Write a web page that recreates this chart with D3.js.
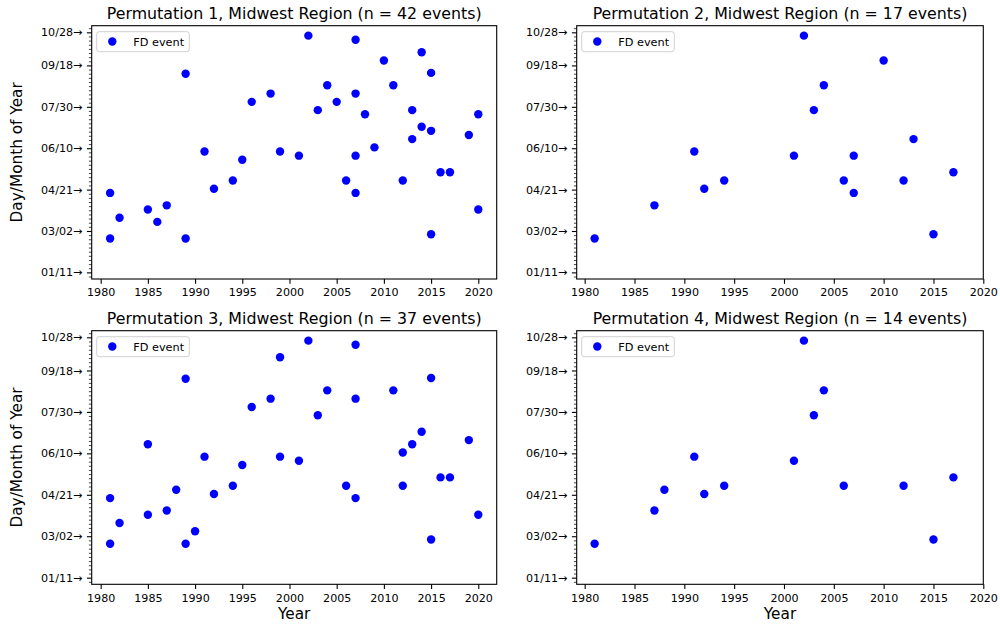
<!DOCTYPE html>
<html>
<head>
<meta charset="utf-8">
<script src="https://cdn.jsdelivr.net/npm/d3@7"></script>
<style>
  html, body { margin: 0; padding: 0; background: #fff; }
  svg { display: block; font-family: "DejaVu Sans", sans-serif; }
</style>
</head>
<body>
<svg id="chart" width="1000" height="626"></svg>
<script>
// FD event data (year, day of year)
const p1Years = [1981, 1981, 1982, 1985, 1986, 1987, 1989, 1989, 1991, 1992, 1994, 1995, 1996, 1998, 1999,
  2001, 2002, 2003, 2004, 2005, 2006, 2007, 2007, 2007, 2007, 2008, 2009, 2010, 2011, 2012,
  2013, 2013, 2014, 2014, 2015, 2015, 2015, 2016, 2017, 2019, 2020, 2020];
const p1Days = [107, 52, 77, 87, 72, 92, 251, 52, 157, 112, 122, 147, 217, 227, 157,
  152, 297, 207, 237, 217, 122, 292, 227, 152, 107, 202, 162, 267, 237, 122,
  207, 172, 277, 187, 252, 182, 57, 132, 132, 177, 202, 87];

const p2Years = [1981, 1987, 1991, 1992, 1994, 2001, 2002, 2003, 2004, 2006, 2007, 2007, 2010, 2012, 2013, 2015, 2017];
const p2Days = [52, 92, 157, 112, 122, 152, 297, 207, 237, 122, 152, 107, 267, 122, 172, 57, 132];

const p3Years = [1981, 1981, 1982, 1985, 1985, 1987, 1988, 1989, 1989, 1990, 1991, 1992, 1994, 1995, 1996,
  1998, 1999, 1999, 2001, 2002, 2003, 2004, 2006, 2007, 2007, 2007, 2011, 2012, 2012, 2013,
  2014, 2015, 2015, 2016, 2017, 2019, 2020];
const p3Days = [107, 52, 77, 172, 87, 92, 117, 251, 52, 67, 157, 112, 122, 147, 217,
  227, 277, 157, 152, 297, 207, 237, 122, 292, 227, 107, 237, 162, 122, 172,
  187, 252, 57, 132, 132, 177, 87];

const p4Years = [1981, 1987, 1988, 1991, 1992, 1994, 2001, 2002, 2003, 2004, 2006, 2012, 2015, 2017];
const p4Days = [52, 92, 117, 157, 112, 122, 152, 297, 207, 237, 122, 122, 57, 132];

const yearTicks = [1980, 1985, 1990, 1995, 2000, 2005, 2010, 2015, 2020];
const dayTicks = [11, 61, 111, 161, 211, 261, 301];

const panels = [
  { title: "Permutation 1, Midwest Region (n = 42 events)", years: p1Years, days: p1Days,
    left: 91.7, right: 496.7, top: 25.7, bottom: 279, xDomain: [1979.05, 2021.95], yLabel: true, xLabel: false },
  { title: "Permutation 2, Midwest Region (n = 17 events)", years: p2Years, days: p2Days,
    left: 576.7, right: 983.3, top: 25.7, bottom: 279, xDomain: [1979.2, 2020], yLabel: false, xLabel: false },
  { title: "Permutation 3, Midwest Region (n = 37 events)", years: p3Years, days: p3Days,
    left: 91.7, right: 496.7, top: 330.7, bottom: 584.3, xDomain: [1979.05, 2021.95], yLabel: true, xLabel: true },
  { title: "Permutation 4, Midwest Region (n = 14 events)", years: p4Years, days: p4Days,
    left: 576.7, right: 983.3, top: 330.7, bottom: 584.3, xDomain: [1979.2, 2020], yLabel: false, xLabel: true }
];

const fmtDay = d => d3.timeFormat("%m/%d")(new Date(2001, 0, d)) + "\u2192";
const minorDays = d3.range(6, 309, 5).filter(d => !dayTicks.includes(d));

const svg = d3.select("#chart");

panels.forEach(p => {
  const x = d3.scaleLinear().domain(p.xDomain).range([p.left, p.right]);
  const y = d3.scaleLinear().domain([3, 309]).range([p.bottom, p.top]);
  const g = svg.append("g");

  // minor y ticks every 5 days
  g.append("g")
    .attr("transform", `translate(${p.left},0)`)
    .call(d3.axisLeft(y).tickValues(minorDays).tickSize(2.8).tickFormat(""))
    .call(a => a.select(".domain").remove())
    .call(a => a.selectAll("line").attr("stroke", "#333").attr("stroke-width", 0.9));

  // major y ticks
  g.append("g")
    .attr("transform", `translate(${p.left},0)`)
    .call(d3.axisLeft(y).tickValues(dayTicks).tickSize(4.8).tickPadding(4.6).tickFormat(fmtDay))
    .call(a => a.select(".domain").remove())
    .call(a => a.selectAll("line").attr("stroke", "#000").attr("stroke-width", 1.1))
    .call(a => a.selectAll("text").attr("font-size", "11.1px").attr("fill", "#000")
      .attr("font-family", "DejaVu Sans"));

  // x axis
  g.append("g")
    .attr("transform", `translate(0,${p.bottom})`)
    .call(d3.axisBottom(x).tickValues(yearTicks).tickSize(4.8).tickPadding(4.6).tickFormat(d3.format("d")))
    .call(a => a.select(".domain").remove())
    .call(a => a.selectAll("line").attr("stroke", "#000").attr("stroke-width", 1.1))
    .call(a => a.selectAll("text").attr("font-size", "11.1px").attr("fill", "#000")
      .attr("font-family", "DejaVu Sans"));

  // points
  g.append("g")
    .selectAll("circle")
    .data(d3.zip(p.years, p.days))
    .join("circle")
    .attr("cx", d => x(d[0]))
    .attr("cy", d => y(d[1]))
    .attr("r", 4.2)
    .attr("fill", "#0000ff");

  // frame
  g.append("rect")
    .attr("x", p.left).attr("y", p.top)
    .attr("width", p.right - p.left).attr("height", p.bottom - p.top)
    .attr("fill", "none").attr("stroke", "#000").attr("stroke-width", 1.1);

  // legend
  const lg = g.append("g").attr("transform", `translate(${p.left + 5},${p.top + 6})`);
  lg.append("rect")
    .attr("x", 0).attr("y", 0).attr("width", 92.6).attr("height", 20).attr("rx", 2.5)
    .attr("fill", "#fff").attr("fill-opacity", 0.8)
    .attr("stroke", "#d0d0d0").attr("stroke-width", 1);
  lg.append("circle").attr("cx", 15.6).attr("cy", 9.8).attr("r", 4.2).attr("fill", "#0000ff");
  lg.append("text").attr("x", 36.5).attr("y", 14)
    .attr("font-size", "11.3px").attr("fill", "#000").text("FD event");

  // title
  g.append("text")
    .attr("x", (p.left + p.right) / 2).attr("y", p.top - 6.3)
    .attr("text-anchor", "middle").attr("font-size", "15.8px").attr("fill", "#000")
    .text(p.title);

  if (p.yLabel) {
    const cy = (p.top + p.bottom) / 2;
    g.append("text")
      .attr("transform", `translate(21.5,${cy}) rotate(-90)`)
      .attr("text-anchor", "middle").attr("font-size", "15.3px").attr("fill", "#000")
      .text("Day/Month of Year");
  }
  if (p.xLabel) {
    g.append("text")
      .attr("x", (p.left + p.right) / 2).attr("y", 618.5)
      .attr("text-anchor", "middle").attr("font-size", "15.3px").attr("fill", "#000")
      .text("Year");
  }
});
</script>
</body>
</html>
